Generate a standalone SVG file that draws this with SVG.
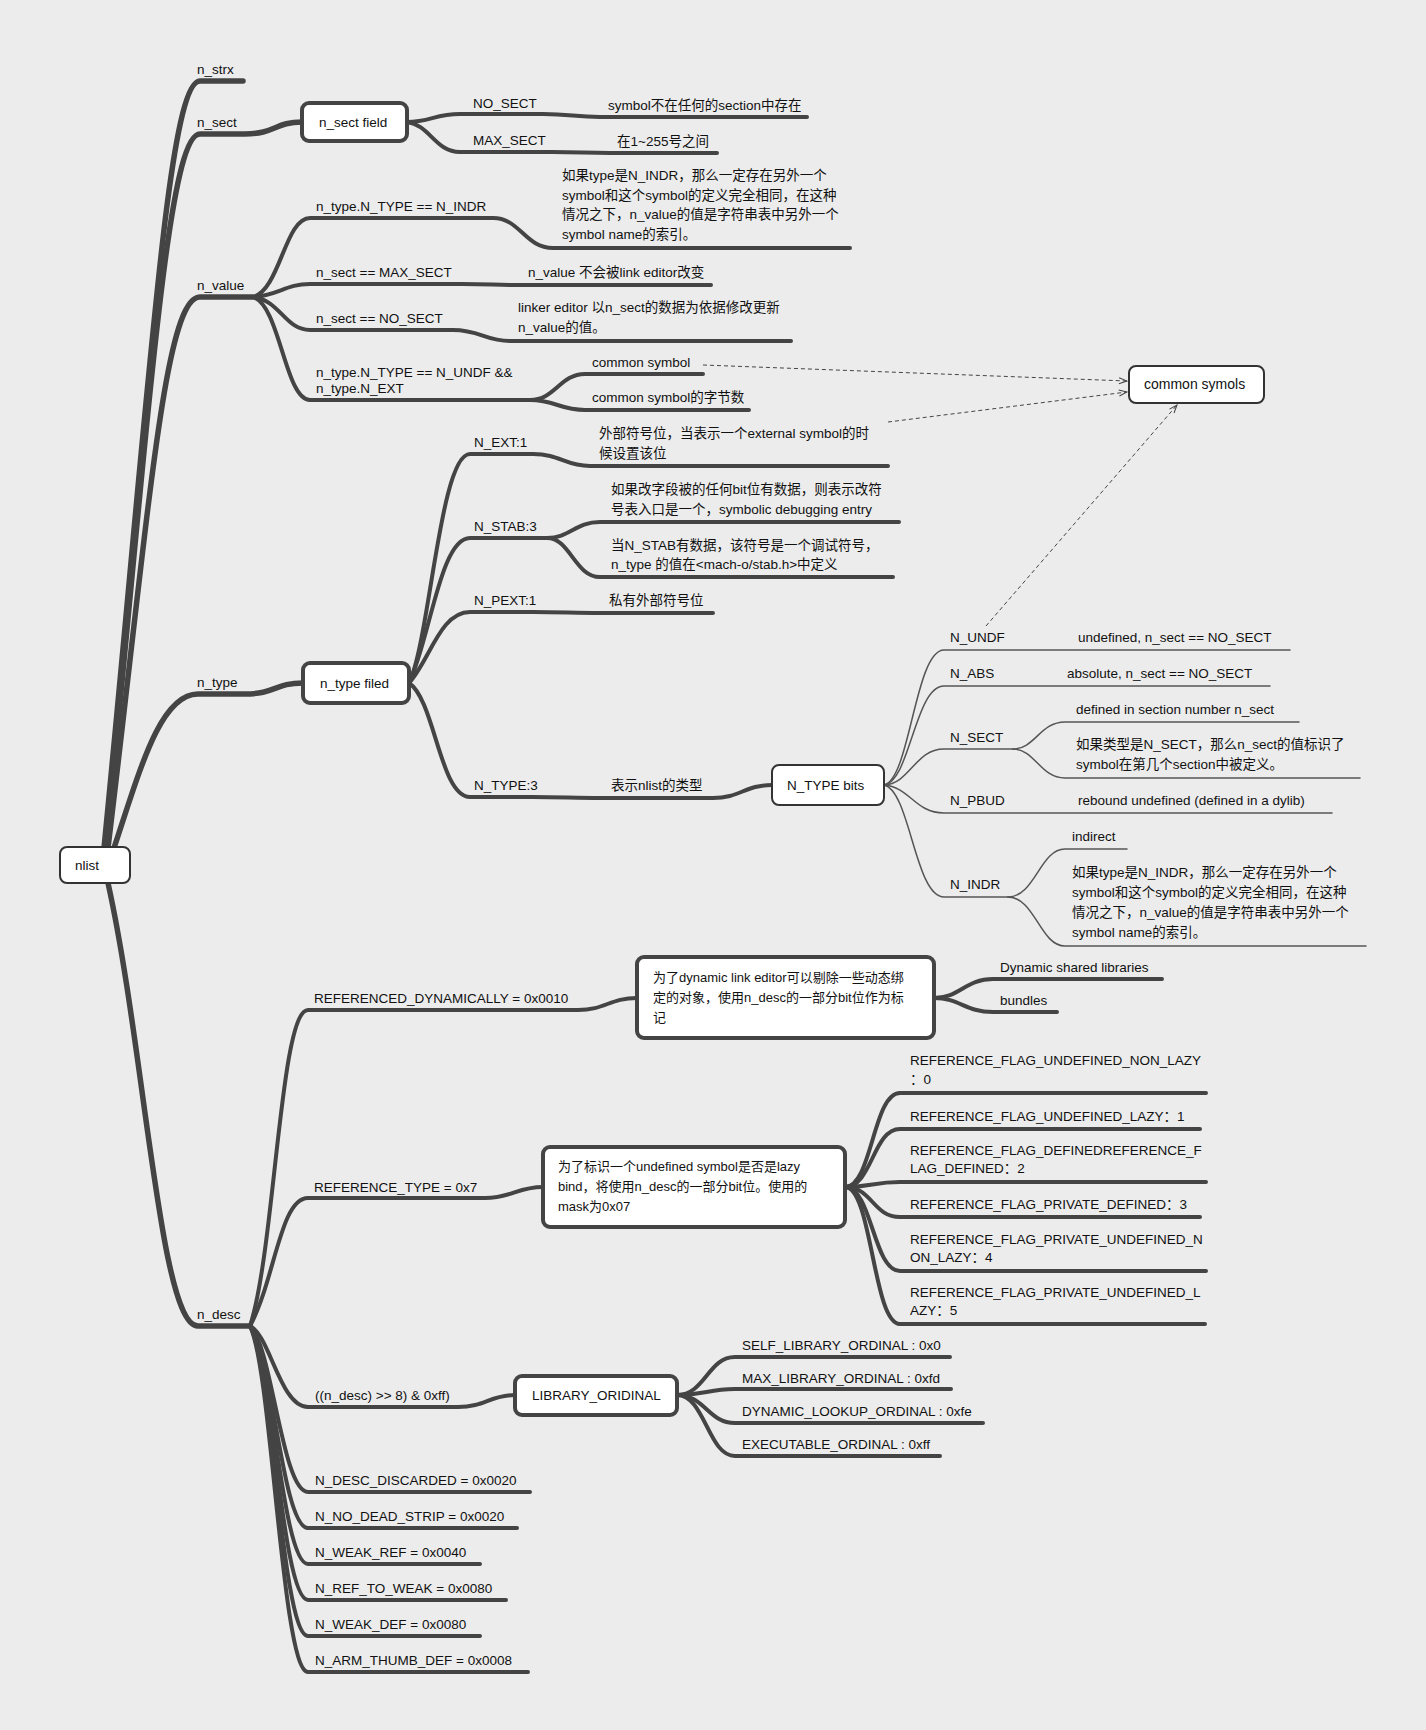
<svg xmlns="http://www.w3.org/2000/svg" width="1426" height="1730" viewBox="0 0 1426 1730">
<defs>
<style>
.bg{fill:#ececec}
.c1{fill:none;stroke:#444;stroke-width:5.5;stroke-linecap:round}
.c2{fill:none;stroke:#444;stroke-width:4;stroke-linecap:round}
.c3{fill:none;stroke:#555;stroke-width:1.5;stroke-linecap:round}
.d{fill:none;stroke:#444;stroke-width:1;stroke-dasharray:4 3;marker-end:url(#arr)}
.box{fill:#fff;stroke:#444;stroke-width:4}
.box2{fill:#fff;stroke:#333;stroke-width:2}
text{font-family:"Liberation Sans","Noto Sans CJK SC",sans-serif;font-size:13.5px;fill:#111}
.s{font-size:13px}
.l{font-size:14px}
</style>
<marker id="arr" markerWidth="10" markerHeight="8" refX="9" refY="4" orient="auto" markerUnits="userSpaceOnUse">
<path d="M1,1 L9,4 L1,7" fill="none" stroke="#444" stroke-width="1"/>
</marker>
</defs>
<rect class="bg" x="0" y="0" width="1426" height="1730"/>

<g id="connectors">
<path class="c1" d="M104,848 C150,380 168,81 200,81 H243"/>
<path class="c1" d="M106,848 C150,400 168,134 200,134 H245 C275,134 275,122 302,122"/>
<path class="c1" d="M108,848 C150,500 165,297 200,297 H253"/>
<path class="c1" d="M114,848 C140,770 160,694 198,694 H245 C275,694 275,683 303,683"/>
<path class="c1" d="M108,883 C145,1050 160,1326 198,1326 H250"/>
<path class="c2" d="M407,122 C430,122 435,114 460,114 H543 C570,114 575,117 600,117 H807"/>
<path class="c2" d="M407,122 C430,125 435,152 460,152 H552 C580,152 585,153 610,153 H717"/>
<path class="c2" d="M253,297 C280,290 285,218 310,218 H493 C520,218 525,248 553,248 H850"/>
<path class="c2" d="M253,297 C280,295 285,284 310,284 H462 C490,284 495,285 520,285 H711"/>
<path class="c2" d="M253,297 C280,300 285,330 310,330 H453 C480,330 485,341 510,341 H791"/>
<path class="c2" d="M253,297 C280,305 285,400 310,400 H530"/>
<path class="c2" d="M530,400 C555,400 560,374 585,374 H703"/>
<path class="c2" d="M530,400 C555,400 560,410 585,410 H749"/>
<path class="c2" d="M409,683 C430,640 440,454 470,454 H533 C560,454 565,466 590,466 H888"/>
<path class="c2" d="M409,683 C430,640 440,538 470,538 H547"/>
<path class="c2" d="M547,538 C570,538 575,522 600,522 H899"/>
<path class="c2" d="M547,538 C570,538 575,577 600,577 H893"/>
<path class="c2" d="M409,683 C430,660 440,612 470,612 H533 C560,612 575,613 600,613 H713"/>
<path class="c2" d="M409,683 C435,700 440,797 470,797 H533 C560,797 575,798 600,798 H713 C740,798 745,785 772,785"/>
<path class="c3" d="M884,785 C910,780 915,650 944,650 H1290"/>
<path class="c3" d="M884,785 C910,782 915,686 944,686 H1270"/>
<path class="c3" d="M884,785 C910,784 915,749 944,749 H1013"/>
<path class="c3" d="M1013,749 C1035,749 1040,722 1065,722 H1299"/>
<path class="c3" d="M1013,749 C1035,749 1040,778 1065,778 H1360"/>
<path class="c3" d="M884,785 C910,787 915,813 944,813 H1332"/>
<path class="c3" d="M884,785 C910,790 915,897 944,897 H1008"/>
<path class="c3" d="M1008,897 C1035,897 1040,849 1065,849 H1127"/>
<path class="c3" d="M1008,897 C1035,897 1040,946 1065,946 H1366"/>
<path class="c2" d="M250,1326 C275,1250 280,1010 308,1010 H578 C605,1010 610,998 637,998"/>
<path class="c2" d="M250,1326 C275,1280 280,1198 308,1198 H485 C512,1198 517,1187 543,1187"/>
<path class="c2" d="M250,1326 C270,1335 280,1407 308,1407 H458 C485,1407 490,1395 515,1395"/>
<path class="c2" d="M250,1326 C272,1345 282,1492 308,1492 H530"/>
<path class="c2" d="M250,1326 C272,1350 282,1528 308,1528 H517"/>
<path class="c2" d="M250,1326 C272,1355 282,1564 308,1564 H480"/>
<path class="c2" d="M250,1326 C272,1360 282,1600 308,1600 H506"/>
<path class="c2" d="M250,1326 C272,1365 282,1636 308,1636 H480"/>
<path class="c2" d="M250,1326 C272,1370 282,1672 308,1672 H528"/>
<path class="c2" d="M934,998 C960,998 965,979 993,979 H1162"/>
<path class="c2" d="M934,998 C960,998 965,1012 993,1012 H1057"/>
<path class="c2" d="M845,1187 C872,1187 873,1093 900,1093 H1206"/>
<path class="c2" d="M845,1187 C872,1187 873,1129 900,1129 H1200"/>
<path class="c2" d="M845,1187 C872,1187 873,1182 900,1182 H1206"/>
<path class="c2" d="M845,1187 C872,1187 873,1217 900,1217 H1200"/>
<path class="c2" d="M845,1187 C872,1187 873,1271 900,1271 H1206"/>
<path class="c2" d="M845,1187 C872,1187 873,1324 900,1324 H1205"/>
<path class="c2" d="M677,1395 C705,1395 708,1357 735,1357 H950"/>
<path class="c2" d="M677,1395 C705,1395 708,1389 735,1389 H951"/>
<path class="c2" d="M677,1395 C705,1395 708,1423 735,1423 H983"/>
<path class="c2" d="M677,1395 C705,1395 708,1456 735,1456 H940"/>
<path class="d" d="M703,365 L1127,381"/>
<path class="d" d="M888,422 L1127,392"/>
<path class="d" d="M986,626 L1177,405"/>
</g>

<g id="nlist"><rect class="box2" x="60" y="847" width="70" height="36" rx="7"/><text x="75" y="870">nlist</text></g>
<g id="n_strx"><text x="197" y="74">n_strx</text></g>
<g id="n_sect"><text x="197" y="127">n_sect</text></g>
<g id="n_sect_field"><rect class="box" x="302" y="103" width="105" height="38" rx="7"/><text x="319" y="127">n_sect field</text></g>
<g id="no_sect"><text x="473" y="108">NO_SECT</text></g>
<g id="no_sect_desc"><text x="608" y="110">symbol不在任何的section中存在</text></g>
<g id="max_sect"><text x="473" y="145">MAX_SECT</text></g>
<g id="max_sect_desc"><text x="617" y="146">在1~255号之间</text></g>
<g id="n_value"><text x="197" y="290">n_value</text></g>
<g id="nv_indr"><text x="316" y="211">n_type.N_TYPE == N_INDR</text></g>
<g id="nv_indr_desc"><text x="562" y="180">如果type是N_INDR，那么一定存在另外一个</text><text x="562" y="200">symbol和这个symbol的定义完全相同，在这种</text><text x="562" y="219">情况之下，n_value的值是字符串表中另外一个</text><text x="562" y="239">symbol name的索引。</text></g>
<g id="nv_max"><text x="316" y="277">n_sect == MAX_SECT</text></g>
<g id="nv_max_desc"><text x="528" y="277">n_value 不会被link editor改变</text></g>
<g id="nv_no"><text x="316" y="323">n_sect == NO_SECT</text></g>
<g id="nv_no_desc"><text x="518" y="312">linker editor 以n_sect的数据为依据修改更新</text><text x="518" y="332">n_value的值。</text></g>
<g id="nv_undf"><text x="316" y="377">n_type.N_TYPE == N_UNDF &amp;&amp;</text><text x="316" y="393">n_type.N_EXT</text></g>
<g id="common_symbol"><text x="592" y="367">common symbol</text></g>
<g id="common_symbol_bytes"><text x="592" y="402">common symbol的字节数</text></g>
<g id="common_symols"><rect class="box2" x="1129" y="366" width="135" height="37" rx="7"/><text class="l" x="1144" y="389">common symols</text></g>
<g id="n_type"><text x="197" y="687">n_type</text></g>
<g id="n_type_filed"><rect class="box" x="303" y="663" width="106" height="40" rx="7"/><text x="320" y="688">n_type filed</text></g>
<g id="n_ext"><text x="474" y="447">N_EXT:1</text></g>
<g id="n_ext_desc"><text x="599" y="438">外部符号位，当表示一个external symbol的时</text><text x="599" y="458">候设置该位</text></g>
<g id="n_stab"><text x="474" y="531">N_STAB:3</text></g>
<g id="n_stab_desc1"><text x="611" y="494">如果改字段被的任何bit位有数据，则表示改符</text><text x="611" y="514">号表入口是一个，symbolic debugging entry</text></g>
<g id="n_stab_desc2"><text x="611" y="550">当N_STAB有数据，该符号是一个调试符号，</text><text x="611" y="569">n_type 的值在&lt;mach-o/stab.h&gt;中定义</text></g>
<g id="n_pext"><text x="474" y="605">N_PEXT:1</text></g>
<g id="n_pext_desc"><text x="609" y="605">私有外部符号位</text></g>
<g id="n_type3"><text x="474" y="790">N_TYPE:3</text></g>
<g id="n_type3_desc"><text x="611" y="790">表示nlist的类型</text></g>
<g id="n_type_bits"><rect class="box2" x="772" y="765" width="112" height="40" rx="7"/><text x="787" y="790">N_TYPE bits</text></g>
<g id="n_undf"><text x="950" y="642">N_UNDF</text><text x="1078" y="642">undefined, n_sect == NO_SECT</text></g>
<g id="n_abs"><text x="950" y="678">N_ABS</text><text x="1067" y="678">absolute, n_sect == NO_SECT</text></g>
<g id="n_sect_bit"><text x="950" y="742">N_SECT</text></g>
<g id="n_sect_bit_d1"><text x="1076" y="714">defined in section number n_sect</text></g>
<g id="n_sect_bit_d2"><text x="1076" y="749">如果类型是N_SECT，那么n_sect的值标识了</text><text x="1076" y="769">symbol在第几个section中被定义。</text></g>
<g id="n_pbud"><text x="950" y="805">N_PBUD</text><text x="1078" y="805">rebound undefined (defined in a dylib)</text></g>
<g id="n_indr"><text x="950" y="889">N_INDR</text></g>
<g id="n_indr_d1"><text x="1072" y="841">indirect</text></g>
<g id="n_indr_d2"><text x="1072" y="877">如果type是N_INDR，那么一定存在另外一个</text><text x="1072" y="897">symbol和这个symbol的定义完全相同，在这种</text><text x="1072" y="917">情况之下，n_value的值是字符串表中另外一个</text><text x="1072" y="937">symbol name的索引。</text></g>
<g id="n_desc"><text x="197" y="1319">n_desc</text></g>
<g id="ref_dyn"><text x="314" y="1003">REFERENCED_DYNAMICALLY = 0x0010</text></g>
<g id="ref_dyn_box"><rect class="box" x="637" y="957" width="297" height="81" rx="7"/><text class="s" x="653" y="982">为了dynamic link editor可以剔除一些动态绑</text><text class="s" x="653" y="1002">定的对象，使用n_desc的一部分bit位作为标</text><text class="s" x="653" y="1022">记</text></g>
<g id="dyn_libs"><text x="1000" y="972">Dynamic shared libraries</text></g>
<g id="bundles"><text x="1000" y="1005">bundles</text></g>
<g id="ref_type"><text x="314" y="1192">REFERENCE_TYPE = 0x7</text></g>
<g id="ref_type_box"><rect class="box" x="543" y="1147" width="302" height="80" rx="7"/><text class="s" x="558" y="1171">为了标识一个undefined symbol是否是lazy</text><text class="s" x="558" y="1191">bind，将使用n_desc的一部分bit位。使用的</text><text class="s" x="558" y="1211">mask为0x07</text></g>
<g id="rf0"><text x="910" y="1065">REFERENCE_FLAG_UNDEFINED_NON_LAZY</text><text x="910" y="1084">：0</text></g>
<g id="rf1"><text x="910" y="1121">REFERENCE_FLAG_UNDEFINED_LAZY：1</text></g>
<g id="rf2"><text x="910" y="1155">REFERENCE_FLAG_DEFINEDREFERENCE_F</text><text x="910" y="1173">LAG_DEFINED：2</text></g>
<g id="rf3"><text x="910" y="1209">REFERENCE_FLAG_PRIVATE_DEFINED：3</text></g>
<g id="rf4"><text x="910" y="1244">REFERENCE_FLAG_PRIVATE_UNDEFINED_N</text><text x="910" y="1262">ON_LAZY：4</text></g>
<g id="rf5"><text x="910" y="1297">REFERENCE_FLAG_PRIVATE_UNDEFINED_L</text><text x="910" y="1315">AZY：5</text></g>
<g id="lib_expr"><text x="315" y="1400">((n_desc) &gt;&gt; 8) &amp; 0xff)</text></g>
<g id="lib_box"><rect class="box" x="515" y="1376" width="162" height="39" rx="7"/><text x="532" y="1400">LIBRARY_ORIDINAL</text></g>
<g id="lib0"><text x="742" y="1350">SELF_LIBRARY_ORDINAL : 0x0</text></g>
<g id="lib1"><text x="742" y="1383">MAX_LIBRARY_ORDINAL : 0xfd</text></g>
<g id="lib2"><text x="742" y="1416">DYNAMIC_LOOKUP_ORDINAL : 0xfe</text></g>
<g id="lib3"><text x="742" y="1449">EXECUTABLE_ORDINAL : 0xff</text></g>
<g id="nd1"><text x="315" y="1485">N_DESC_DISCARDED = 0x0020</text></g>
<g id="nd2"><text x="315" y="1521">N_NO_DEAD_STRIP = 0x0020</text></g>
<g id="nd3"><text x="315" y="1557">N_WEAK_REF = 0x0040</text></g>
<g id="nd4"><text x="315" y="1593">N_REF_TO_WEAK = 0x0080</text></g>
<g id="nd5"><text x="315" y="1629">N_WEAK_DEF = 0x0080</text></g>
<g id="nd6"><text x="315" y="1665">N_ARM_THUMB_DEF = 0x0008</text></g>
</svg>
